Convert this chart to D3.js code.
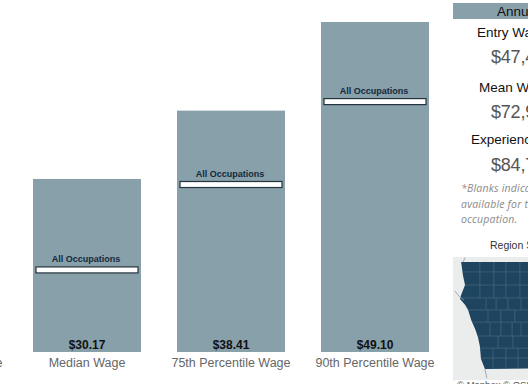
<!DOCTYPE html>
<html>
<head>
<meta charset="utf-8">
<script src="https://cdn.jsdelivr.net/npm/d3@7"></script>
<style>
    html, body { margin: 0; padding: 0; background: #fff; overflow: hidden; }
    svg { display: block; font-family: "Liberation Sans", Arial, sans-serif; }
</style>
</head>
<body>
<svg id="chart" width="528" height="384"></svg>
<script>
// hourly wages, the first bar sits off the left edge of the page
const categories = ['25th Percentile Wage', 'Median Wage', '75th Percentile Wage', '90th Percentile Wage'];
const wages = [24.3, 30.17, 38.41, 49.10];
const allOccupations = [15.6, 19.2, 29.5, 39.5];

// side panel
const panelTitle = 'Annual Wages';
const annualLabels = ['Entry Wage', 'Mean Wage', 'Experienced Wage'];
const annualValues = ['$47,450', '$72,980', '$84,730'];
const noteLines = ['*Blanks indicate data not', 'available for this', 'occupation.'];
const mapTitle = 'Region Served';
const mapCredit = '© Mapbox © OSM';

// rough state outline, [lon, lat]
const stateOutline = [
    [-96.56, 43.5], [-96.49, 43.12], [-96.42, 42.87], [-96.56, 42.6], [-96.6, 42.49], [-96.42, 42.33],
    [-96.31, 42.19], [-96.2, 41.92], [-96.06, 41.67], [-95.96, 41.45], [-95.89, 41.2], [-95.85, 40.85],
    [-95.71, 40.58], [-91.73, 40.61], [-91.42, 40.38], [-91.1, 40.7], [-90.95, 41.1], [-90.34, 41.55],
    [-90.15, 41.95], [-90.64, 42.5], [-91.15, 43.0], [-91.22, 43.5]
];
// county lines: row edges, then the column lines inside each row
const countyLats = [43.5, 43.23, 42.87, 42.52, 42.19, 41.86, 41.48, 41.15, 40.88, 40.58];
const countyLons = [
    [-95.89, -95.39, -94.96, -94.46],
    [-95.89, -95.39, -94.96, -94.46],
    [-95.89, -95.39, -94.96, -94.46],
    [-95.67, -95.31, -94.89, -94.42],
    [-95.6, -95.14, -94.64],
    [-95.53, -95.14, -94.74, -94.42],
    [-95.24, -94.71],
    [-95.42, -94.96, -94.53],
    [-95.42, -94.96, -94.53]
];
// rivers running out past the state line
const riverLines = [
    [[-96.78, 42.71], [-96.67, 42.6], [-96.6, 42.54], [-96.46, 42.46]],
    [[-96.42, 43.62], [-96.49, 43.5]],
    [[-95.71, 40.58], [-95.64, 40.33]]
];

const svg = d3.select('#chart');

const x = d3.scaleBand()
    .domain(categories)
    .range([-129, 447])
    .paddingInner(0.25)
    .paddingOuter(0.125);

// the bars do not start from zero in the original
const y = d3.scaleLinear()
    .domain([9.3, 49.1])
    .range([352, 22]);

const bars = svg.selectAll('.bar')
    .data(categories)
    .enter()
    .append('g')
    .attr('class', 'bar');

bars.append('rect')
    .attr('x', d => x(d))
    .attr('y', (d, i) => y(wages[i]))
    .attr('width', x.bandwidth())
    .attr('height', (d, i) => y.range()[0] - y(wages[i]))
    .attr('fill', '#87a0aa');

bars.append('rect')
    .attr('x', d => x(d) + 3)
    .attr('y', (d, i) => y(allOccupations[i]) - 3)
    .attr('width', x.bandwidth() - 6)
    .attr('height', 6)
    .attr('fill', '#fff')
    .attr('stroke', '#26333c')
    .attr('stroke-width', 1.2);

bars.append('text')
    .attr('x', d => x(d) + x.bandwidth() / 2 - 1)
    .attr('y', (d, i) => y(allOccupations[i]) - 8)
    .attr('text-anchor', 'middle')
    .attr('font-size', 9)
    .attr('font-weight', 'bold')
    .attr('fill', '#14283a')
    .text('All Occupations');

bars.append('text')
    .attr('x', d => x(d) + x.bandwidth() / 2)
    .attr('y', 349)
    .attr('text-anchor', 'middle')
    .attr('font-size', 12)
    .attr('font-weight', 'bold')
    .attr('fill', '#111')
    .text((d, i) => '$' + wages[i].toFixed(2));

const axis = svg.append('g')
    .attr('transform', 'translate(0,352)')
    .call(d3.axisBottom(x).tickSize(0).tickPadding(6));
axis.select('.domain').remove();
axis.selectAll('text')
    .attr('font-size', 12.5)
    .attr('font-family', '"Liberation Sans", Arial, sans-serif')
    .attr('fill', '#666');

// side panel
svg.append('rect')
    .attr('x', 453).attr('y', 3)
    .attr('width', 100).attr('height', 16)
    .attr('fill', '#87a0aa');

svg.append('text')
    .attr('x', 497).attr('y', 16)
    .attr('font-size', 13.5)
    .attr('fill', '#111')
    .text(panelTitle);

const labelY = [37, 92, 144];
const labelX = [477, 479, 471];
const valueY = [63, 118, 171];

annualLabels.forEach((d, i) => {
    svg.append('text')
        .attr('x', labelX[i]).attr('y', labelY[i])
        .attr('font-size', 13.5)
        .attr('fill', '#111')
        .text(d);
    svg.append('text')
        .attr('x', 491).attr('y', valueY[i])
        .attr('font-size', 18)
        .attr('letter-spacing', -0.2)
        .attr('fill', '#555')
        .text(annualValues[i]);
});

svg.selectAll('.note')
    .data(noteLines)
    .enter()
    .append('text')
    .attr('class', 'note')
    .attr('x', 461)
    .attr('y', (d, i) => 192 + i * 15.5)
    .attr('font-family', '"Open Sans", sans-serif')
    .attr('font-style', 'italic')
    .attr('font-size', 10.5)
    .attr('letter-spacing', 0.2)
    .attr('fill', '#8a8a8a')
    .text(d => d);

svg.append('text')
    .attr('x', 490).attr('y', 249)
    .attr('font-size', 10.5)
    .attr('fill', '#333')
    .text(mapTitle);

// map
svg.append('rect')
    .attr('x', 453).attr('y', 257)
    .attr('width', 100).attr('height', 124)
    .attr('fill', '#ebecec');

const lon = d3.scaleLinear().domain([-96.6, -94.4]).range([460, 521.6]);
const lat = d3.scaleLinear().domain([43.5, 40.58]).range([262, 369]);
const line = d3.line().x(d => lon(d[0])).y(d => lat(d[1]));

svg.append('clipPath').attr('id', 'stateClip')
    .append('path')
    .attr('d', line(stateOutline) + 'Z');

svg.append('path')
    .attr('d', line(stateOutline) + 'Z')
    .attr('fill', '#1e4560');

const county = svg.append('g')
    .attr('clip-path', 'url(#stateClip)')
    .attr('stroke', '#426479')
    .attr('stroke-width', 0.8);

county.selectAll('.parallel')
    .data(countyLats.slice(1, -1))
    .enter()
    .append('line')
    .attr('x1', 450).attr('x2', 528)
    .attr('y1', d => lat(d)).attr('y2', d => lat(d));

countyLons.forEach((row, i) => {
    county.selectAll('.meridian' + i)
        .data(row)
        .enter()
        .append('line')
        .attr('x1', d => lon(d)).attr('x2', d => lon(d))
        .attr('y1', lat(countyLats[i])).attr('y2', lat(countyLats[i + 1]));
});

riverLines.forEach(r => {
    svg.append('path')
        .attr('d', line(r))
        .attr('fill', 'none')
        .attr('stroke', '#8b9aa5')
        .attr('stroke-width', 0.8);
});

svg.append('rect')
    .attr('x', 455).attr('y', 380)
    .attr('width', 80).attr('height', 4)
    .attr('fill', '#fff');

svg.append('text')
    .attr('x', 457).attr('y', 388)
    .attr('font-size', 9.5)
    .attr('fill', '#555')
    .text(mapCredit);
</script>
</body>
</html>
